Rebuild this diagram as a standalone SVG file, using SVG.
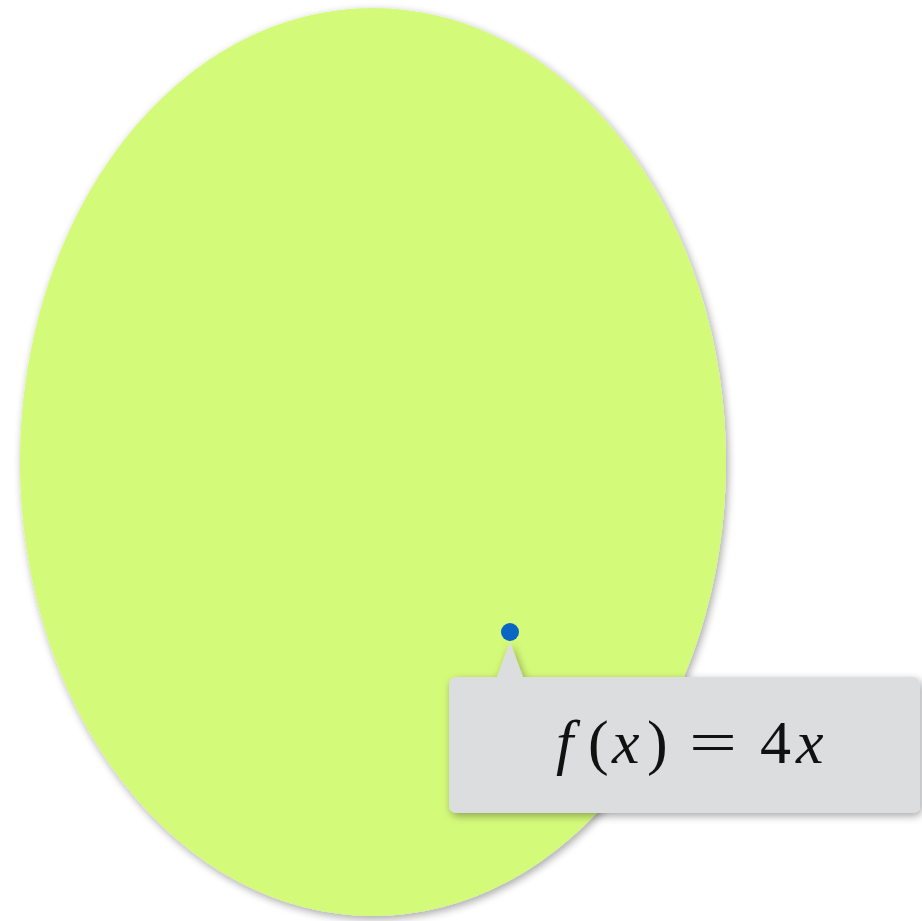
<svg xmlns="http://www.w3.org/2000/svg" width="922" height="921" viewBox="0 0 922 921">
<defs>
<filter id="sh" x="-10%" y="-10%" width="120%" height="120%">
<feGaussianBlur in="SourceAlpha" stdDeviation="4"/>
<feOffset dx="2" dy="3" result="b"/>
<feComponentTransfer><feFuncA type="linear" slope="0.35"/></feComponentTransfer>
<feMerge><feMergeNode/><feMergeNode in="SourceGraphic"/></feMerge>
</filter>
<style>
.m{font-family:"Liberation Serif","DejaVu Serif",serif;font-size:62px;fill:#111}
.i{font-style:italic}
</style>
</defs>
<rect width="922" height="921" fill="#ffffff"/>
<g id="ellipse">
<ellipse cx="373" cy="462" rx="353" ry="454" fill="#d4fa7a" filter="url(#sh)"/>
</g>
<g id="callout" filter="url(#sh)">
<path d="M457,677 L497,677 L510,642 L523,677 L912,677 Q920,677 920,685 L920,805 Q920,813 912,813 L457,813 Q449,813 449,805 L449,685 Q449,677 457,677 Z" fill="#dcdddf"/>
</g>
<g id="point">
<circle cx="510" cy="632" r="9" fill="#0a66c2"/>
</g>
<g id="label">
<text class="m" y="763"><tspan class="i" x="556">f</tspan><tspan x="588">(</tspan><tspan class="i" x="612">x</tspan><tspan x="647">)</tspan><tspan x="689" textLength="48" lengthAdjust="spacingAndGlyphs">=</tspan><tspan x="760">4</tspan><tspan class="i" x="796">x</tspan></text>
</g>
</svg>
